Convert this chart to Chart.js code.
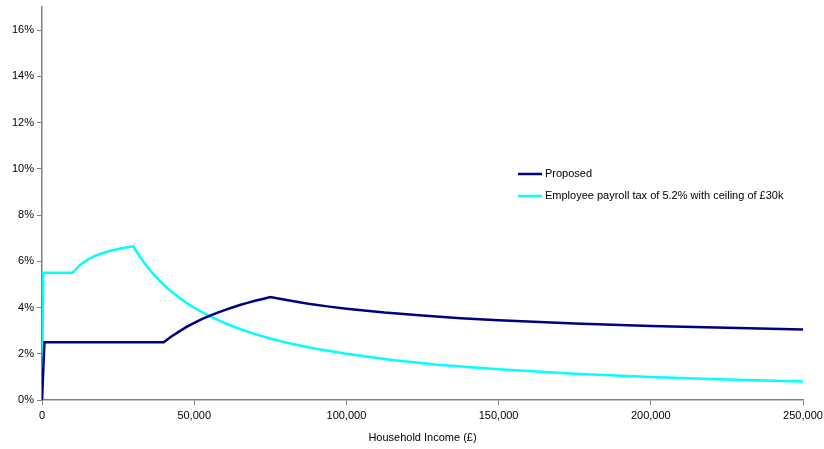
<!DOCTYPE html>
<html>
<head>
<meta charset="utf-8">
<script src="https://cdn.jsdelivr.net/npm/chart.js@4/dist/chart.umd.min.js"></script>
<style>
html,body{margin:0;padding:0;background:#fff;}
canvas{display:block;}
</style>
</head>
<body>
<canvas id="c" width="824" height="449"></canvas>
<script>
// Household income (£) and average tax rate (%)
const proposedIncome = [0, 800, 40000, 42500, 45000, 47500, 50000, 52500, 55000, 57500, 60000, 62500, 65000, 67500, 70000, 72500, 75000, 81250, 87500, 93750, 100000, 112500, 125000, 137500, 150000, 175000, 200000, 225000, 250000];
const proposedRate   = [0, 2.5, 2.5, 2.75, 2.96, 3.16, 3.34, 3.50, 3.64, 3.77, 3.89, 4.00, 4.11, 4.20, 4.29, 4.37, 4.45, 4.30, 4.16, 4.05, 3.95, 3.78, 3.65, 3.54, 3.45, 3.31, 3.20, 3.12, 3.05];

const payrollIncome = [0, 400, 10000, 12500, 15000, 17500, 20000, 22500, 25000, 27500, 30000, 31250, 32500, 33750, 35000, 36250, 37500, 38750, 40000, 42500, 45000, 47500, 50000, 55000, 60000, 65000, 70000, 75000, 80000, 90000, 100000, 115000, 130000, 150000, 175000, 200000, 225000, 250000];
const payrollRate   = [0, 5.5, 5.5, 5.84, 6.07, 6.24, 6.36, 6.46, 6.53, 6.60, 6.65, 6.38, 6.14, 5.91, 5.70, 5.50, 5.32, 5.15, 4.99, 4.69, 4.43, 4.20, 3.99, 3.63, 3.33, 3.07, 2.85, 2.66, 2.49, 2.22, 2.00, 1.73, 1.53, 1.33, 1.14, 1.00, 0.89, 0.80];

const seriesNames = ["Proposed", "Employee payroll tax of 5.2% with ceiling of £30k"];
const seriesColors = ["#000080", "#00FFFF"];
const yTickValues = [0, 2, 4, 6, 8, 10, 12, 14, 16];
const xTitle = "Household Income (£)";

const toPts = (xs, ys) => xs.map((x, i) => ({x: x, y: ys[i]}));

const legendPlugin = {
  id: 'customLegend',
  afterDraw(chart) {
    const ctx = chart.ctx;
    ctx.save();
    ctx.font = '11px "Liberation Sans", Arial, sans-serif';
    ctx.textBaseline = 'middle';
    ctx.fillStyle = '#000';
    const ys = [174, 196];
    chart.data.datasets.forEach((ds, i) => {
      ctx.strokeStyle = ds.borderColor;
      ctx.lineWidth = 2.5;
      ctx.beginPath();
      ctx.moveTo(518, ys[i]);
      ctx.lineTo(542, ys[i]);
      ctx.stroke();
      ctx.fillText(ds.label, 545, ys[i]);
    });
    ctx.restore();
  }
};

new Chart(document.getElementById('c'), {
  type: 'line',
  data: {
    datasets: [
      {label: seriesNames[0], data: toPts(proposedIncome, proposedRate), borderColor: seriesColors[0], backgroundColor: seriesColors[0], borderWidth: 2.5, pointRadius: 0, tension: 0, fill: false},
      {label: seriesNames[1], data: toPts(payrollIncome, payrollRate), borderColor: seriesColors[1], backgroundColor: seriesColors[1], borderWidth: 2.5, pointRadius: 0, tension: 0, fill: false}
    ]
  },
  options: {
    responsive: false,
    animation: false,
    layout: {padding: {top: 7, right: 21, left: 0, bottom: 0}},
    plugins: {legend: {display: false}, tooltip: {enabled: false}},
    scales: {
      x: {
        type: 'linear', min: 0, max: 250000,
        border: {color: '#808080', width: 1.5},
        grid: {drawOnChartArea: false, color: '#808080', tickLength: 5, lineWidth: 1},
        ticks: {stepSize: 50000, color: '#000', font: {family: '"Liberation Sans", Arial, sans-serif', size: 11}, padding: 4, maxRotation: 0,
          callback: v => v.toLocaleString('en-US')},
        title: {display: true, text: xTitle, color: '#000', font: {family: '"Liberation Sans", Arial, sans-serif', size: 11}, padding: {top: 6}},
        afterFit: s => { s.height = 49; s.paddingLeft = 0; s.paddingRight = 0; }
      },
      y: {
        type: 'linear', min: 0, max: 17,
        border: {color: '#808080', width: 1.5},
        grid: {drawOnChartArea: false, color: '#808080', tickLength: 5, lineWidth: 1},
        afterBuildTicks: s => { s.ticks = yTickValues.map(v => ({value: v})); },
        ticks: {color: '#000', font: {family: '"Liberation Sans", Arial, sans-serif', size: 11}, padding: 3,
          callback: v => v + '%'},
        afterFit: s => { s.width = 42; s.paddingTop = 0; s.paddingBottom = 0; }
      }
    }
  },
  plugins: [legendPlugin]
});
</script>
</body>
</html>
